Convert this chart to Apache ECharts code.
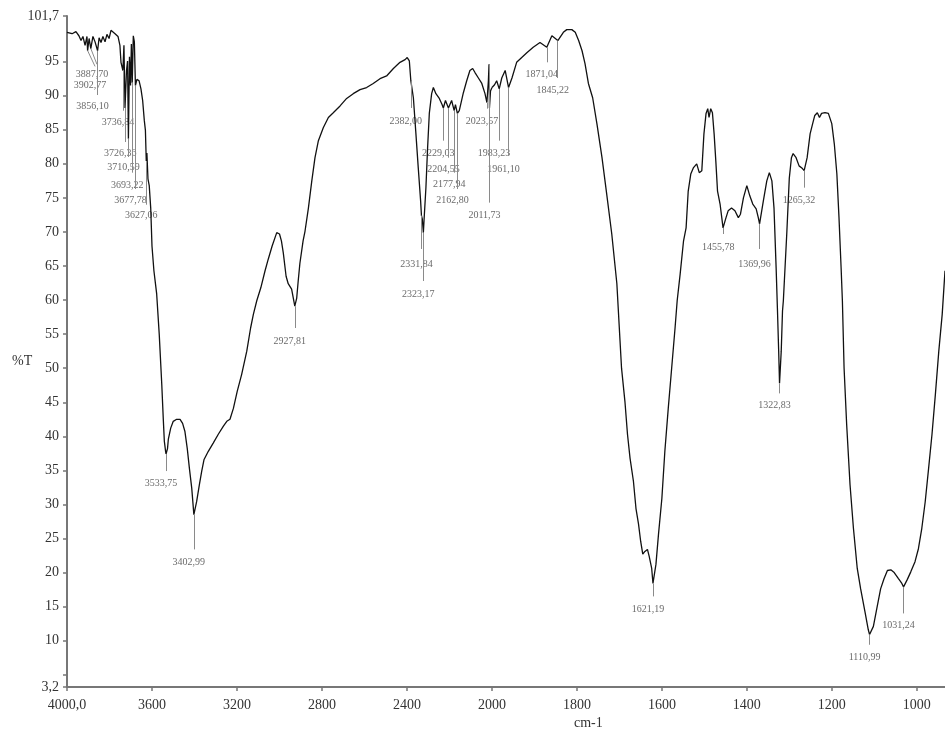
<!DOCTYPE html>
<html>
<head>
<meta charset="utf-8">
<script src="https://cdn.jsdelivr.net/npm/echarts@6/dist/echarts.min.js"></script>
<style>
  html, body { margin: 0; padding: 0; background: #fff; }
  #chart { width: 945px; height: 735px; }
</style>
</head>
<body>
<div id="chart"></div>
<script>
// ====== spectrum (cm-1, %T) ======
const wavenumbers = [
  4000, 3976, 3958, 3944, 3934, 3925, 3915, 3906, 3903, 3896, 3888, 3878, 3868, 3856, 3849, 3840,
  3831, 3821, 3812, 3802, 3793, 3784, 3774, 3760, 3751, 3746, 3737, 3732, 3727, 3720, 3715, 3711,
  3706, 3701, 3697, 3693, 3688, 3683, 3678, 3671, 3661, 3652, 3644, 3636, 3631, 3627, 3624, 3619,
  3613, 3606, 3600, 3591, 3578, 3566, 3554, 3547, 3542, 3536, 3534, 3527, 3523, 3512, 3500, 3484,
  3468, 3456, 3445, 3434, 3424, 3413, 3403, 3390, 3377, 3366, 3355, 3335, 3312, 3288, 3264, 3248,
  3233, 3217, 3199, 3178, 3154, 3136, 3123, 3107, 3088, 3068, 3053, 3035, 3013, 3000, 2991, 2982,
  2969, 2959, 2943, 2928, 2919, 2912, 2904, 2889, 2880, 2864, 2848, 2833, 2817, 2794, 2770, 2747,
  2715, 2684, 2653, 2621, 2590, 2559, 2527, 2496, 2464, 2433, 2409, 2399, 2389, 2382, 2370, 2358,
  2347, 2336, 2332, 2328, 2323, 2320, 2311, 2303, 2295, 2284, 2276, 2264, 2248, 2235, 2229, 2219,
  2205, 2190, 2178, 2172, 2163, 2154, 2143, 2135, 2119, 2104, 2091, 2080, 2064, 2048, 2033, 2024,
  2017, 2014, 2012, 2007, 2000, 1994, 1989, 1983, 1977, 1969, 1961, 1953, 1942, 1930, 1918, 1903,
  1887, 1871, 1859, 1845, 1832, 1824, 1812, 1804, 1796, 1788, 1781, 1773, 1763, 1753, 1741, 1730,
  1718, 1706, 1695, 1687, 1681, 1675, 1667, 1661, 1655, 1650, 1645, 1640, 1634, 1630, 1624, 1621,
  1614, 1608, 1600, 1593, 1585, 1577, 1569, 1564, 1557, 1549, 1543, 1538, 1532, 1526, 1518, 1512,
  1506, 1501, 1496, 1492, 1489, 1485, 1481, 1477, 1473, 1469, 1463, 1459, 1456, 1449, 1444, 1436,
  1428, 1420, 1415, 1408, 1400, 1393, 1386, 1378, 1373, 1370, 1361, 1353, 1347, 1341, 1336, 1331,
  1328, 1325, 1323, 1319, 1316, 1314, 1306, 1300, 1295, 1291, 1284, 1277, 1269, 1265, 1258, 1251,
  1245, 1240, 1234, 1229, 1224, 1216, 1208, 1200, 1194, 1188, 1183, 1178, 1175, 1171, 1165, 1157,
  1149, 1140, 1132, 1122, 1114, 1111, 1102, 1094, 1085, 1077, 1069, 1061, 1053, 1043, 1035, 1031,
  1022, 1014, 1004, 996, 988, 980, 972, 964, 956, 948, 940, 933.4
];
const transmittance = [
  99.3, 99.1, 99.4, 98.8, 98.1, 98.7, 97.4, 98.7, 96.6, 98.4, 96.9, 98.7, 97.9, 96.6, 98.5, 97.8,
  98.7, 97.9, 99.0, 98.4, 99.6, 99.7, 99.1, 98.7, 97.4, 94.9, 93.7, 97.4, 88.2, 93.7, 95.1, 83.7,
  95.7, 91.5, 97.6, 91.9, 98.8, 97.9, 91.5, 92.4, 92.2, 91.0, 89.3, 86.3, 84.9, 80.4, 81.6, 77.8,
  76.8, 73.5, 67.9, 64.3, 60.9, 55.0, 47.6, 42.6, 39.3, 37.8, 37.4, 38.2, 39.6, 41.2, 42.2, 42.5,
  42.5, 41.9, 40.7, 38.2, 35.3, 32.4, 28.5, 30.4, 32.9, 34.9, 36.6, 37.8, 39.0, 40.3, 41.5, 42.2,
  42.5, 44.1, 46.6, 49.1, 52.5, 55.9, 57.9, 59.9, 61.8, 64.3, 66.0, 67.9, 69.9, 69.7, 68.7, 66.9,
  63.5, 62.4, 61.6, 59.1, 60.3, 62.8, 65.4, 68.7, 70.1, 73.5, 77.5, 80.9, 83.4, 85.3, 86.8, 87.5,
  88.5, 89.6, 90.3, 90.9, 91.2, 91.8, 92.5, 92.9, 94.0, 94.9, 95.3, 95.6, 95.1, 92.2, 89.7, 84.4,
  79.4, 74.6, 72.4, 71.9, 69.9, 71.6, 76.5, 82.4, 87.4, 90.3, 91.2, 90.3, 89.6, 88.7, 88.2, 89.3,
  88.2, 89.3, 87.8, 88.7, 87.4, 87.8, 89.3, 90.4, 92.2, 93.7, 94.0, 93.4, 92.6, 91.8, 90.3, 89.0,
  92.2, 94.6, 88.2, 90.7, 91.2, 91.6, 92.2, 91.0, 92.6, 93.7, 91.2, 92.6, 94.9, 95.6, 96.3, 97.1,
  97.8, 97.1, 98.8, 98.1, 99.3, 99.7, 99.7, 99.3, 98.1, 96.6, 94.7, 91.8, 89.7, 85.9, 80.9, 75.6,
  69.7, 62.4, 50.0, 45.1, 40.3, 36.8, 33.4, 29.4, 27.1, 24.6, 22.7, 23.1, 23.4, 22.4, 20.6, 18.4,
  21.2, 25.6, 30.9, 37.8, 44.1, 50.0, 55.9, 59.9, 63.8, 68.7, 70.6, 76.0, 78.5, 79.4, 80.0, 78.7,
  79.0, 84.4, 87.4, 88.1, 86.8, 88.1, 87.5, 84.4, 80.4, 76.0, 74.1, 72.1, 70.6, 72.1, 73.1, 73.5,
  73.1, 72.1, 72.6, 75.0, 76.8, 75.3, 74.1, 73.4, 72.1, 71.2, 74.6, 77.5, 78.7, 77.5, 73.5, 64.7,
  58.8, 52.5, 47.8, 52.5, 58.4, 59.9, 69.7, 77.9, 80.9, 81.5, 80.9, 79.7, 79.3, 79.0, 80.9, 84.4,
  85.9, 87.1, 87.5, 86.8, 87.4, 87.5, 87.4, 85.9, 82.9, 78.5, 72.1, 64.7, 59.9, 50.0, 41.8, 32.9,
  26.5, 20.6, 17.6, 14.3, 11.6, 10.9, 12.1, 14.7, 17.6, 19.1, 20.3, 20.4, 20.0, 19.1, 18.4, 17.9,
  19.0, 20.1, 21.6, 23.5, 26.5, 30.4, 35.3, 40.3, 46.2, 52.5, 57.9, 64.3
];

// ====== peak picks: position, leader line top/bottom, label level ======
const peakWn = [3902.77, 3887.70, 3856.10, 3736.84, 3726.36, 3710.59, 3693.22, 3677.78, 3627.06,
  3533.75, 3402.99, 2927.81, 2382.00, 2331.84, 2323.17, 2229.03, 2204.55, 2177.94, 2162.80,
  2023.57, 2011.73, 1983.23, 1961.10, 1871.04, 1845.22, 1621.19, 1455.78, 1369.96, 1322.83,
  1265.32, 1110.99, 1031.24];
const peakTop = [96.6, 96.9, 96.6, 93.7, 88.2, 83.7, 91.9, 91.5, 80.4, 37.4, 28.5, 59.1, 92.2,
  72.4, 69.9, 88.2, 88.2, 87.8, 87.4, 89.0, 94.6, 91.0, 91.2, 97.1, 98.1, 18.4, 70.6, 71.2, 47.8,
  79.0, 10.9, 17.9];
const peakEnd = [94.3, 94.6, 90.1, 87.8, 83.2, 81.0, 78.7, 76.3, 74.0, 34.9, 23.4, 55.9, 88.2,
  67.5, 62.8, 83.4, 80.9, 78.7, 76.3, 88.1, 74.3, 83.4, 81.2, 94.9, 92.6, 16.5, 69.7, 67.5, 46.3,
  76.5, 9.4, 14.0];
// the two leftmost leaders run slanted towards their labels
const peakEndWn = [3868, 3859];
const peakLabelAt = [91.5, 93.2, 88.4, 86.1, 81.5, 79.5, 76.9, 74.7, 72.4, 33.1, 21.5, 53.9,
  86.2, 65.3, 60.8, 81.5, 79.2, 77.0, 74.7, 86.2, 72.4, 81.5, 79.2, 93.1, 90.8, 14.6, 67.7, 65.3,
  44.5, 74.7, 7.5, 12.3];

// ====== axis ticks ======
const yLabels = [3.2, 10, 15, 20, 25, 30, 35, 40, 45, 50, 55, 60, 65, 70, 75, 80, 85, 90, 95, 101.7];
const yTicks = [3.2, 5, 10, 15, 20, 25, 30, 35, 40, 45, 50, 55, 60, 65, 70, 75, 80, 85, 90, 95, 101.7];
const xTicksLow = [1800, 1600, 1400, 1200, 1000];

const FONT = "Liberation Serif";
const fmt = (v) => String(v).replace(".", ",");

const hiPts = [], loPts = [];
wavenumbers.forEach((w, i) => {
  if (w >= 2000) hiPts.push([w, transmittance[i]]);
  if (w <= 2000) loPts.push([w, transmittance[i]]);
});

const lines = [[], []], labels = [[], []];
peakWn.forEach((w, i) => {
  const g = w > 2000 ? 0 : 1;
  const ex = peakEndWn[i] ?? w;
  lines[g].push([{ coord: [w, peakTop[i]] }, { coord: [ex, peakEnd[i]] }]);
  labels[g].push({ value: [ex, peakLabelAt[i]], name: w.toFixed(2).replace(".", ",") });
});

const axisLine = { lineStyle: { color: "#777", width: 2 } };
const axisTick = { length: 4, lineStyle: { color: "#777", width: 1.5 } };
const axisLabel = { color: "#333", fontFamily: FONT, fontSize: 14 };

const chart = echarts.init(document.getElementById("chart"));
chart.setOption({
  animation: false,
  grid: [
    { left: 67, top: 16, width: 425, height: 671 },
    { left: 492, top: 16, width: 453, height: 671 },
  ],
  xAxis: [
    {
      gridIndex: 0, type: "value", min: 2000, max: 4000, interval: 400, inverse: true,
      axisLine, axisTick, splitLine: { show: false },
      axisLabel: { ...axisLabel, margin: 11, formatter: (v) => (v === 4000 ? "4000,0" : String(v)) },
    },
    {
      gridIndex: 1, type: "value", min: 933.4, max: 2000, inverse: true,
      axisLine, splitLine: { show: false },
      axisTick: { ...axisTick, customValues: xTicksLow },
      axisLabel: { ...axisLabel, margin: 11, customValues: xTicksLow, formatter: (v) => String(v) },
    },
  ],
  yAxis: [
    {
      gridIndex: 0, type: "value", min: 3.2, max: 101.7,
      axisLine: { show: true, ...axisLine }, splitLine: { show: false },
      axisTick: { show: true, ...axisTick, customValues: yTicks },
      axisLabel: { ...axisLabel, margin: 8, customValues: yLabels, formatter: fmt },
    },
    { gridIndex: 1, type: "value", min: 3.2, max: 101.7, show: false },
  ],
  graphic: [
    { type: "text", left: 12, top: 354, style: { text: "%T", font: `14px "${FONT}"`, fill: "#333" } },
    { type: "text", left: 574, top: 716, style: { text: "cm-1", font: `14px "${FONT}"`, fill: "#333" } },
  ],
  series: [0, 1].flatMap((g) => [
    {
      type: "line", xAxisIndex: g, yAxisIndex: g,
      data: g === 0 ? hiPts : loPts,
      showSymbol: false, silent: true,
      lineStyle: { color: "#111", width: 1.3 },
      markLine: {
        silent: true, symbol: "none", animation: false,
        label: { show: false },
        lineStyle: { color: "#8a8a8a", width: 1, type: "solid" },
        emphasis: { disabled: true },
        data: lines[g],
      },
    },
    {
      type: "scatter", xAxisIndex: g, yAxisIndex: g,
      data: labels[g], symbolSize: 0, silent: true,
      label: {
        show: true, position: "inside", offset: [-5, 0],
        formatter: (p) => p.name,
        color: "#444", fontFamily: FONT, fontSize: 10,
      },
    },
  ]),
});
</script>
</body>
</html>
